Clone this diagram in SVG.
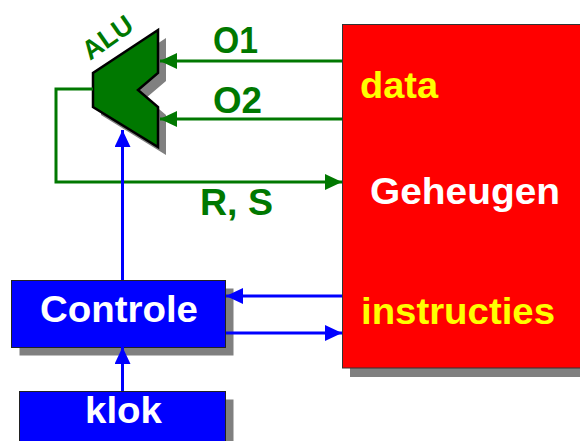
<svg xmlns="http://www.w3.org/2000/svg" width="580" height="441" viewBox="0 0 580 441">
<style>
  .t { font-family: "Liberation Sans", Arial, sans-serif; font-weight: bold; font-size: 37px; }
  .g { fill: #007800; }
  .y { fill: #FFFF00; }
  .w { fill: #FFFFFF; }
  .shadow { fill: #808080; }
  .gl { stroke: #007800; stroke-width: 3; fill: none; }
  .bl { stroke: #0000FF; stroke-width: 3; fill: none; }
</style>
<defs>
  <marker id="ag" markerUnits="userSpaceOnUse" markerWidth="18" markerHeight="16" refX="17" refY="8" orient="auto" viewBox="0 0 18 16">
    <path d="M0,0 L17,8 L0,16 Z" fill="#007800"/>
  </marker>
  <marker id="ab" markerUnits="userSpaceOnUse" markerWidth="18" markerHeight="16" refX="17" refY="8" orient="auto" viewBox="0 0 18 16">
    <path d="M0,0 L17,8 L0,16 Z" fill="#0000FF"/>
  </marker>
</defs>
<rect width="580" height="441" fill="#FFFFFF"/>

<g id="geheugen">
  <rect class="shadow" x="350" y="32" width="240" height="345"/>
  <rect x="342.5" y="24.5" width="250" height="343.5" fill="#FF0000" stroke="#333333" stroke-width="1"/>
  <text class="t y" x="360" y="98" textLength="78" lengthAdjust="spacingAndGlyphs">data</text>
  <text class="t w" x="370" y="204" textLength="190" lengthAdjust="spacingAndGlyphs">Geheugen</text>
  <text class="t y" x="361" y="324" textLength="194" lengthAdjust="spacingAndGlyphs">instructies</text>
</g>

<g id="alu">
  <polygon class="shadow" points="166,38 101,81 101,115 166,155 166,115 146,98 166,81"/>
  <polygon points="158,30 93,73 93,107 158,147 158,107 138,90 158,73" fill="#007800" stroke="#000000" stroke-width="2.5" stroke-linejoin="miter"/>
  <text class="t g" style="font-size:27px" transform="translate(90,61) rotate(-35)">ALU</text>
</g>

<g id="controle">
  <rect class="shadow" x="19.5" y="288.5" width="214" height="67"/>
  <rect x="11.5" y="280.5" width="214" height="67" fill="#0000FF" stroke="#222222" stroke-width="1"/>
  <text class="t w" x="40" y="322" textLength="158" lengthAdjust="spacingAndGlyphs">Controle</text>
</g>

<g id="klok">
  <rect class="shadow" x="27.5" y="399.5" width="206" height="60"/>
  <rect x="19.5" y="391.5" width="206" height="60" fill="#0000FF" stroke="#222222" stroke-width="1"/>
  <text class="t w" x="85" y="423" textLength="77" lengthAdjust="spacingAndGlyphs">klok</text>
</g>

<g id="connectors">
  <path class="gl" d="M342,61 H160" marker-end="url(#ag)"/>
  <path class="gl" d="M342,119 H160" marker-end="url(#ag)"/>
  <path class="gl" d="M93,89 H56 V182 H342" marker-end="url(#ag)"/>
  <path class="bl" d="M122.5,280 V130" marker-end="url(#ab)"/>
  <path class="bl" d="M342,296 H226" marker-end="url(#ab)"/>
  <path class="bl" d="M226,333 H342" marker-end="url(#ab)"/>
  <path class="bl" d="M122.5,391 V347" marker-end="url(#ab)"/>
</g>

<g id="labels">
  <text class="t g" x="213" y="53" textLength="45" lengthAdjust="spacingAndGlyphs">O1</text>
  <text class="t g" x="213" y="113" textLength="49" lengthAdjust="spacingAndGlyphs">O2</text>
  <text class="t g" x="200" y="215" textLength="73" lengthAdjust="spacingAndGlyphs">R, S</text>
</g>
</svg>
